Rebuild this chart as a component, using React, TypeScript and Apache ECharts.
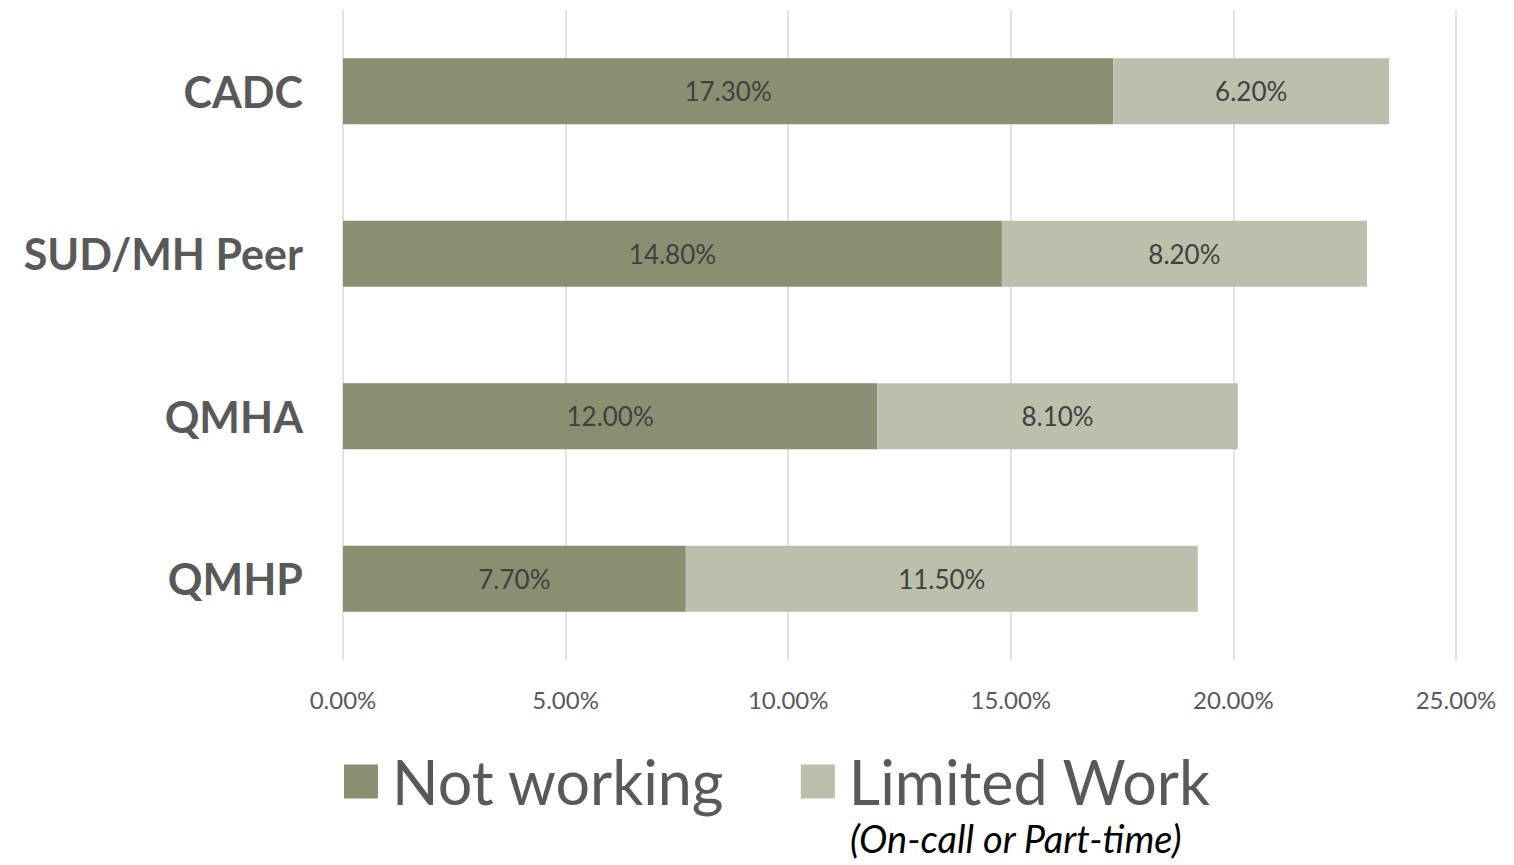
import React, { useEffect, useRef } from "react";
import * as echarts from "echarts";

const categories = ["CADC", "SUD/MH Peer", "QMHA", "QMHP"];
const notWorking = [17.3, 14.8, 12.0, 7.7];
const limitedWork = [6.2, 8.2, 8.1, 11.5];
const seriesNames = ["Not working", "Limited Work"];
const subtitle = "(On-call or Part-time)";

const FONT = "Lato, 'Open Sans', sans-serif";

export default function App() {
  const ref = useRef<HTMLDivElement>(null);
  useEffect(() => {
    document.body.style.margin = "0";
    const chart = echarts.init(ref.current!, null, { renderer: "svg" });
    chart.setOption({
      animation: false,
      textStyle: { fontFamily: FONT },
      grid: { left: 343, right: 58, top: 10, bottom: 205, containLabel: false },
      xAxis: {
        type: "value",
        min: 0,
        max: 25,
        interval: 5,
        axisLine: { show: false },
        axisTick: { show: false },
        splitLine: { lineStyle: { color: "#d9d9d9", width: 1.5 } },
        axisLabel: {
          formatter: (v: number) => v.toFixed(2) + "%",
          fontSize: 24,
          color: "#595959",
          margin: 27,
          fontFamily: FONT,
        },
      },
      yAxis: {
        type: "category",
        data: categories,
        inverse: true,
        axisLine: { show: false },
        axisTick: { show: false },
        axisLabel: {
          fontSize: 43,
          fontWeight: "bold",
          color: "#595959",
          margin: 40,
          fontFamily: FONT,
        },
      },
      legend: {
        data: seriesNames,
        left: 339,
        top: 746,
        itemWidth: 34,
        itemHeight: 34,
        itemGap: 76,
        icon: "rect",
        textStyle: { fontSize: 61, color: "#595959", fontFamily: FONT, padding: [0, 0, 0, 9] },
      },
      graphic: [
        {
          type: "text",
          left: 850,
          top: 819,
          style: {
            text: subtitle,
            fontSize: 38,
            fontStyle: "italic",
            fill: "#000000",
            fontFamily: FONT,
          },
        },
      ],
      series: [
        {
          name: seriesNames[0],
          type: "bar",
          stack: "total",
          data: notWorking,
          barWidth: 66,
          itemStyle: { color: "#8a8f72" },
          label: {
            show: true,
            position: "inside",
            formatter: (p: any) => p.value.toFixed(2) + "%",
            fontSize: 26,
            color: "#404040",
            fontFamily: FONT,
          },
        },
        {
          name: seriesNames[1],
          type: "bar",
          stack: "total",
          data: limitedWork,
          barWidth: 66,
          itemStyle: { color: "#bac0ab" },
          label: {
            show: true,
            position: "inside",
            formatter: (p: any) => p.value.toFixed(2) + "%",
            fontSize: 26,
            color: "#404040",
            fontFamily: FONT,
          },
        },
      ],
    });
    return () => chart.dispose();
  }, []);
  return <div ref={ref} style={{ width: 1514, height: 865 }} />;
}
